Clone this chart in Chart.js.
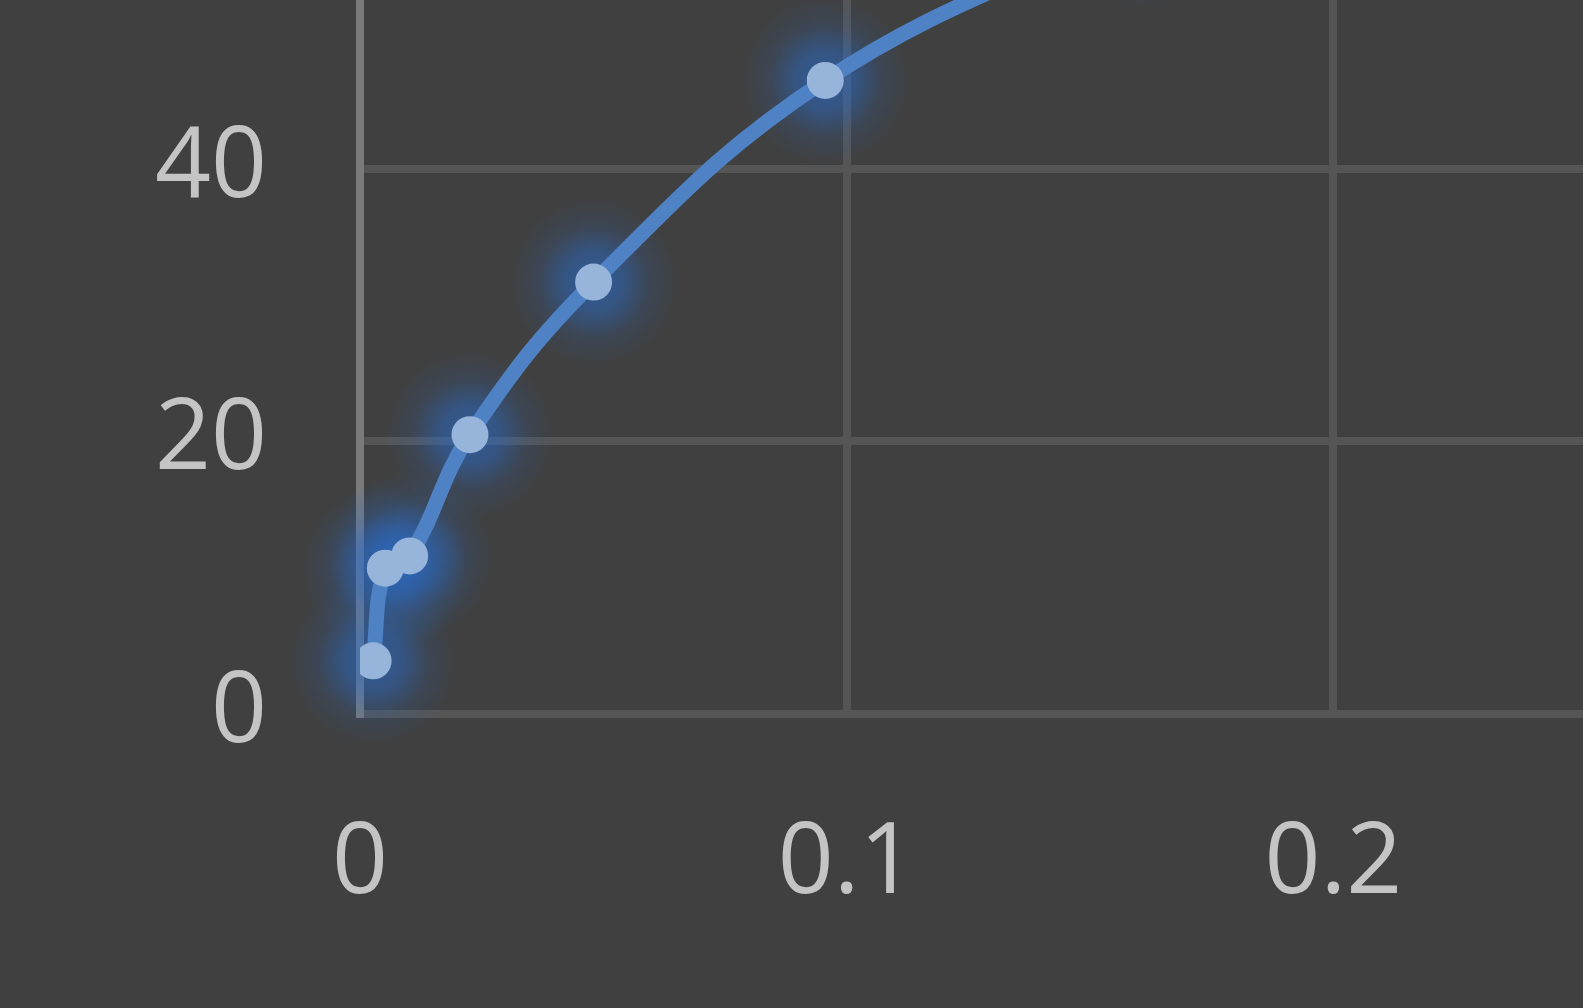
<!DOCTYPE html>
<html>
<head>
<meta charset="utf-8">
<script src="https://cdn.jsdelivr.net/npm/chart.js@4/dist/chart.umd.min.js"></script>
<style>
  html, body { margin: 0; padding: 0; background: #404040; overflow: hidden; }
  #wrap { width: 1583px; height: 1008px; }
</style>
</head>
<body>
<div id="wrap"><canvas id="chart"></canvas></div>
<script>
// values (last point lies above the visible area)
const xValues = [0.0027, 0.0052, 0.0102, 0.0226, 0.048, 0.0956, 0.16];
const yValues = [3.9, 10.7, 11.6, 20.5, 31.7, 46.5, 58];
const xTicks = [0, 0.1, 0.2];
const yTicks = [0, 20, 40];

const points = xValues.map((x, i) => ({ x: x, y: yValues[i] }));

const GLOW_R = 85;

// radial gradient centred on each marker, for the soft glow
function glowFill(ctx) {
    const chart = ctx.chart;
    if (!chart.chartArea || !ctx.parsed || !chart.scales.x) return 'rgba(0,0,0,0)';
    const px = chart.scales.x.getPixelForValue(ctx.parsed.x);
    const py = chart.scales.y.getPixelForValue(ctx.parsed.y);
    if (!isFinite(px) || !isFinite(py)) return 'rgba(0,0,0,0)';
    const g = chart.ctx.createRadialGradient(px, py, 0, px, py, GLOW_R);
    g.addColorStop(0, 'rgba(40,110,210,0.62)');
    g.addColorStop(0.35, 'rgba(40,110,210,0.45)');
    g.addColorStop(0.65, 'rgba(40,110,210,0.15)');
    g.addColorStop(1, 'rgba(40,110,210,0)');
    return g;
}

const tickFont = { family: 'Open Sans', size: 98 };

new Chart(document.getElementById('chart'), {
    type: 'scatter',
    data: {
        datasets: [{
            // glow round the markers
            data: points,
            order: 2,
            clip: false,
            showLine: false,
            pointRadius: GLOW_R,
            pointBackgroundColor: glowFill,
            pointBorderWidth: 0
        }, {
            data: points,
            order: 1,
            showLine: true,
            tension: 0.4,
            borderColor: '#4e82c4',
            borderWidth: 15,
            pointRadius: 18.5,
            pointBackgroundColor: '#97b4da',
            pointBorderWidth: 0
        }]
    },
    options: {
        responsive: true,
        maintainAspectRatio: false,
        animation: false,
        layout: { padding: 0, autoPadding: false },
        plugins: { legend: { display: false }, tooltip: { enabled: false } },
        scales: {
            x: {
                type: 'linear',
                min: 0,
                max: 0.2513,
                afterBuildTicks: s => { s.ticks = xTicks.map(v => ({ value: v })); },
                afterFit: s => {
                    s.height = 294;
                    s.paddingLeft = 0; s.paddingRight = 0;
                },
                grid: { color: '#555555', lineWidth: 8, drawTicks: false },
                border: { color: '#555555', width: 8 },
                ticks: { color: '#c4c4c4', font: tickFont, padding: 92,
                         callback: v => String(v) }
            },
            y: {
                min: 0,
                max: 52.4,
                afterBuildTicks: s => { s.ticks = yTicks.map(v => ({ value: v })); },
                afterFit: s => {
                    s.width = 360;
                    s.paddingTop = 0; s.paddingBottom = 0;
                },
                grid: { color: '#555555', lineWidth: 8, drawTicks: false },
                border: { color: '#7a7a7a', width: 8 },
                ticks: { color: '#c4c4c4', font: tickFont, padding: 93 }
            }
        }
    }
});
</script>
</body>
</html>
